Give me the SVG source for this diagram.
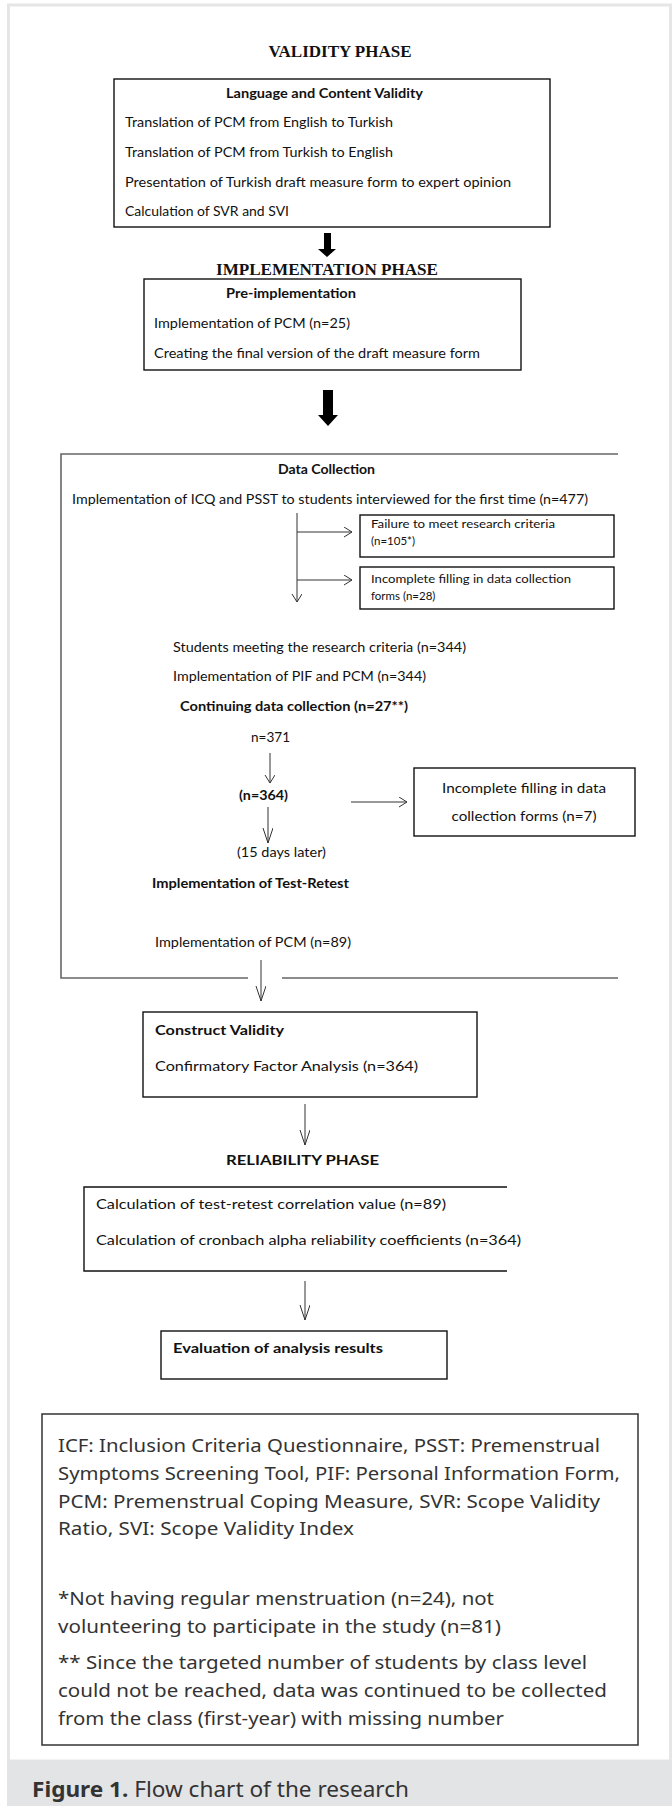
<svg xmlns="http://www.w3.org/2000/svg" width="672" height="1806" viewBox="0 0 672 1806">
<style>
.ser{font-family:"Liberation Serif","Times New Roman",serif;font-weight:bold;font-size:16px;fill:#111}
.t{font-family:Lato,"Liberation Sans",sans-serif;font-size:13px;fill:#111}
.b{font-family:Lato,"Liberation Sans",sans-serif;font-size:13px;font-weight:bold;fill:#111}
.s{font-family:Lato,"Liberation Sans",sans-serif;font-size:11.5px;fill:#111}
.box{fill:none;stroke:#111;stroke-width:1.4}
.gl{fill:none;stroke:#666;stroke-width:1.6}
.ln{fill:none;stroke:#333;stroke-width:1}
.f{font-family:"Noto Sans","Open Sans",sans-serif;font-size:18.5px;fill:#333}
.cap{font-family:"Noto Sans","Open Sans",sans-serif;font-size:21px;fill:#333}
</style>
<defs>
<marker id="ah" markerUnits="userSpaceOnUse" markerWidth="14" markerHeight="14" refX="8" refY="5" orient="auto">
<path d="M0,0 L8,5 L0,10" fill="none" stroke="#333" stroke-width="1"/>
</marker>
<marker id="ahL" markerUnits="userSpaceOnUse" markerWidth="18" markerHeight="14" refX="15" refY="5" orient="auto">
<path d="M0,0 L15,5 L0,10" fill="none" stroke="#333" stroke-width="1"/>
</marker>
</defs>
<rect x="0" y="0" width="672" height="1806" fill="#fff"/>
<rect x="8.5" y="5" width="662" height="1756" fill="#fff" stroke="#e6e6e6" stroke-width="3"/>
<rect x="7" y="1760" width="665" height="46" fill="#e3e4e6"/>

<g id="validity-title"><text class="ser" x="340" y="57" text-anchor="middle" textLength="143" lengthAdjust="spacingAndGlyphs">VALIDITY PHASE</text></g>
<g id="validity-box">
<rect class="box" x="114" y="79" width="436" height="148"/>
<text class="b" x="226" y="98" textLength="197" lengthAdjust="spacingAndGlyphs">Language and Content Validity</text>
<text class="t" x="125" y="127" textLength="268" lengthAdjust="spacingAndGlyphs">Translation of PCM from English to Turkish</text>
<text class="t" x="125" y="157" textLength="268" lengthAdjust="spacingAndGlyphs">Translation of PCM from Turkish to English</text>
<text class="t" x="125" y="187" textLength="386" lengthAdjust="spacingAndGlyphs">Presentation of Turkish draft measure form to expert opinion</text>
<text class="t" x="125" y="216" textLength="164" lengthAdjust="spacingAndGlyphs">Calculation of SVR and SVI</text>
</g>
<g id="implementation-title"><text class="ser" x="327" y="275" text-anchor="middle" textLength="222" lengthAdjust="spacingAndGlyphs">IMPLEMENTATION PHASE</text></g>
<g id="pre-impl-box">
<rect class="box" x="144" y="279" width="377" height="91"/>
<text class="b" x="226" y="298" textLength="130" lengthAdjust="spacingAndGlyphs">Pre-implementation</text>
<text class="t" x="154" y="328" textLength="196" lengthAdjust="spacingAndGlyphs">Implementation of PCM (n=25)</text>
<text class="t" x="154" y="358" textLength="326" lengthAdjust="spacingAndGlyphs">Creating the final version of the draft measure form</text>
</g>
<g id="data-collection">
<path class="gl" d="M618,454 H61 V978 H248 M282,978 H618"/>
<text class="b" x="278" y="474" textLength="97" lengthAdjust="spacingAndGlyphs">Data Collection</text>
<text class="t" x="72" y="504" textLength="516" lengthAdjust="spacingAndGlyphs">Implementation of ICQ and PSST to students interviewed for the first time (n=477)</text>
<text class="t" x="173" y="652" textLength="293" lengthAdjust="spacingAndGlyphs">Students meeting the research criteria (n=344)</text>
<text class="t" x="173" y="681" textLength="253" lengthAdjust="spacingAndGlyphs">Implementation of PIF and PCM (n=344)</text>
<text class="b" x="180" y="711" textLength="228" lengthAdjust="spacingAndGlyphs">Continuing data collection (n=27**)</text>
<text class="t" x="251" y="742" font-size="14" textLength="39" lengthAdjust="spacingAndGlyphs">n=371</text>
<text class="b" x="239" y="800" textLength="49" lengthAdjust="spacingAndGlyphs">(n=364)</text>
<text class="t" x="237" y="857" textLength="89" lengthAdjust="spacingAndGlyphs">(15 days later)</text>
<text class="b" x="152" y="888" textLength="197" lengthAdjust="spacingAndGlyphs">Implementation of Test-Retest</text>
<text class="t" x="155" y="947" textLength="196" lengthAdjust="spacingAndGlyphs">Implementation of PCM (n=89)</text>
</g>
<g id="failure-box">
<rect class="box" x="360" y="515" width="254" height="42"/>
<text class="s" x="371" y="528" textLength="184" lengthAdjust="spacingAndGlyphs">Failure to meet research criteria</text>
<text class="s" x="371" y="545">(n=105*)</text>
</g>
<g id="incomplete-box-1">
<rect class="box" x="360" y="567" width="254" height="42"/>
<text class="s" x="371" y="583" textLength="200" lengthAdjust="spacingAndGlyphs">Incomplete filling in data collection</text>
<text class="s" x="371" y="600">forms (n=28)</text>
</g>
<g id="incomplete-box-2">
<rect class="box" x="414" y="768" width="221" height="68"/>
<text class="t" x="524" y="793" text-anchor="middle" textLength="164" lengthAdjust="spacingAndGlyphs">Incomplete filling in data</text>
<text class="t" x="524" y="821" text-anchor="middle" textLength="145" lengthAdjust="spacingAndGlyphs">collection forms (n=7)</text>
</g>
<g id="construct-box">
<rect class="box" x="143" y="1012" width="334" height="85"/>
<text class="b" x="155" y="1035" font-size="15" textLength="129" lengthAdjust="spacingAndGlyphs">Construct Validity</text>
<text class="t" x="155" y="1071" font-size="14.5" textLength="263" lengthAdjust="spacingAndGlyphs">Confirmatory Factor Analysis (n=364)</text>
</g>
<g id="reliability-title"><text class="b" x="226" y="1165" font-size="15" textLength="153" lengthAdjust="spacingAndGlyphs">RELIABILITY PHASE</text></g>
<g id="reliability-box">
<path class="box" d="M507,1187 H84 V1271 H507"/>
<text class="t" x="96" y="1209" font-size="14" textLength="350" lengthAdjust="spacingAndGlyphs">Calculation of test-retest correlation value (n=89)</text>
<text class="t" x="96" y="1245" font-size="14" textLength="425" lengthAdjust="spacingAndGlyphs">Calculation of cronbach alpha reliability coefficients (n=364)</text>
</g>
<g id="evaluation-box">
<rect class="box" x="161" y="1331" width="286" height="48"/>
<text class="b" x="173" y="1353" font-size="14.5" textLength="210" lengthAdjust="spacingAndGlyphs">Evaluation of analysis results</text>
</g>
<g id="connectors">
<path d="M324,233 H331 V249 H336 L327,257 L318,249 H324 Z" fill="#000"/>
<path d="M323,390 H333 V415 H338 L328,426 L318,415 H323 Z" fill="#000"/>
<path class="ln" d="M297,513 V602" marker-end="url(#ah)"/>
<path class="ln" d="M297,532 H352" marker-end="url(#ah)"/>
<path class="ln" d="M297,580 H352" marker-end="url(#ah)"/>
<path class="ln" d="M270,753 V783" marker-end="url(#ah)"/>
<path class="ln" d="M351,802 H407" marker-end="url(#ah)"/>
<path class="ln" d="M268,807 V843" marker-end="url(#ahL)"/>
<path class="ln" d="M261,960 V1001" marker-end="url(#ahL)"/>
<path class="ln" d="M305,1104 V1145" marker-end="url(#ahL)"/>
<path class="ln" d="M305,1281 V1320" marker-end="url(#ahL)"/>
</g>
<g id="footer">
<rect x="42" y="1414" width="596" height="331" fill="none" stroke="#333" stroke-width="1.5"/>
<text class="f" x="58" y="1452" textLength="542" lengthAdjust="spacingAndGlyphs">ICF: Inclusion Criteria Questionnaire, PSST: Premenstrual</text>
<text class="f" x="58" y="1480" textLength="562" lengthAdjust="spacingAndGlyphs">Symptoms Screening Tool, PIF: Personal Information Form,</text>
<text class="f" x="58" y="1508" textLength="542" lengthAdjust="spacingAndGlyphs">PCM: Premenstrual Coping Measure, SVR: Scope Validity</text>
<text class="f" x="58" y="1535" textLength="296" lengthAdjust="spacingAndGlyphs">Ratio, SVI: Scope Validity Index</text>
<text class="f" x="58" y="1605" textLength="436" lengthAdjust="spacingAndGlyphs">*Not having regular menstruation (n=24), not</text>
<text class="f" x="58" y="1633" textLength="443" lengthAdjust="spacingAndGlyphs">volunteering to participate in the study (n=81)</text>
<text class="f" x="58" y="1669" textLength="529" lengthAdjust="spacingAndGlyphs">** Since the targeted number of students by class level</text>
<text class="f" x="58" y="1697" textLength="549" lengthAdjust="spacingAndGlyphs">could not be reached, data was continued to be collected</text>
<text class="f" x="58" y="1725" textLength="446" lengthAdjust="spacingAndGlyphs">from the class (first-year) with missing number</text>
</g>
<g id="caption">
<text class="cap" x="32" y="1797" textLength="377" lengthAdjust="spacingAndGlyphs"><tspan font-weight="bold">Figure 1.</tspan> Flow chart of the research</text>
</g>
</svg>
